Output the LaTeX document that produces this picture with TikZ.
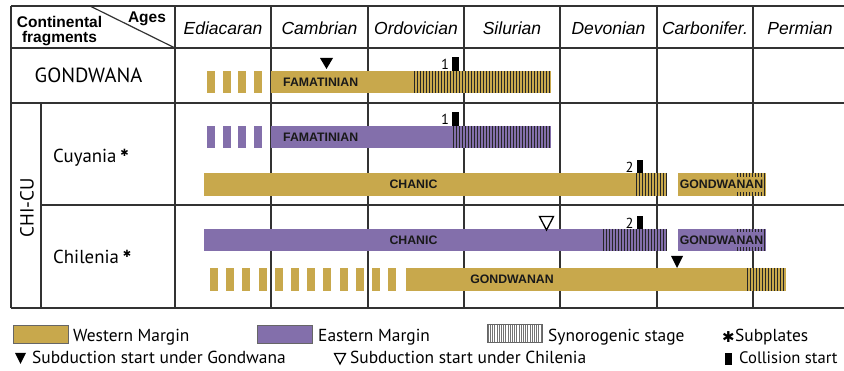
\documentclass[tikz,border=0pt]{standalone}
\usepackage{fontspec}
\setmainfont{Liberation Sans}
\newfontfamily\myr{PT Sans}
\newfontfamily\djv{DejaVu Sans}
\definecolor{gold}{RGB}{200,168,76}
\definecolor{purp}{RGB}{131,111,171}
\definecolor{gridc}{RGB}{50,50,50}
\newcommand\hatchrun[6]{%
 \pgfmathsetmacro\hxa{#1+#5/2}\pgfmathsetmacro\hxb{#1+#5*1.5}%
 \foreach \hx in {\hxa,\hxb,...,#2}{\draw[#6] (\hx,#3) -- (\hx,#4);}}
\newcommand\substar{\hspace{4pt}\raisebox{6pt}{\djv\fontsize{10}{10}\selectfont ✱}}
\tikzset{
 gridln/.style={draw=gridc,line width=1.2pt},
 hatchln/.style={draw=black!85,line width=0.95pt},
 leghatch/.style={draw=black!55,line width=0.5pt},
 hdr/.style={font=\fontsize{17.5}{18}\selectfont\itshape,anchor=base,inner sep=0pt},
 corner/.style={font=\fontsize{15.5}{16}\selectfont\bfseries,anchor=base,inner sep=0pt},
 frag/.style={font=\myr\fontsize{18.8}{20}\selectfont,anchor=base west,inner sep=0pt},
 barlbl/.style={font=\fontsize{12.3}{13}\selectfont\bfseries,text=black!90,inner sep=0pt},
 num/.style={font=\myr\fontsize{14.5}{15}\selectfont,inner sep=0pt},
 leg/.style={font=\myr\fontsize{17.4}{19}\selectfont,anchor=base west,inner sep=0pt},
 star/.style={font=\djv\fontsize{10}{10}\selectfont,inner sep=0pt},
 coll/.style={fill=black},
 legbox/.style={draw=black!60,line width=0.7pt},
}
\begin{document}
\begin{tikzpicture}[x=1pt,y=-1pt]
\useasboundingbox (0,0) rectangle (844,371);
\fill[white] (0,0) rectangle (844,371);
% grid
\draw[gridln] (11,6) -- (844,6);
\draw[gridln] (11,48) -- (844,48);
\draw[gridln] (11,103) -- (844,103);
\draw[gridln] (41,205) -- (844,205);
\draw[gridln] (11,308) -- (844,308);
\draw[gridln] (11,6) -- (11,308);
\draw[gridln] (41,103) -- (41,308);
\foreach \cx in {175,271,368,464,560,657,753}{\draw[gridln] (\cx,6) -- (\cx,308);}
\draw[gridln] (90,6) -- (175,48);
% header
\node[corner] (ages) at (147,23) {Ages};
\node[corner] (cont) at (59.5,28) {Continental};
\node[corner] (frg) at (59.5,43) {fragments};
\node[hdr] (h1) at (223,35) {Ediacaran};
\node[hdr] (h2) at (319.5,35) {Cambrian};
\node[hdr] (h3) at (416,35) {Ordovician};
\node[hdr] (h4) at (512,35) {Silurian};
\node[hdr] (h5) at (608.5,35) {Devonian};
\node[hdr] (h6) at (705,35) {Carbonifer.};
\node[hdr] (h7) at (800,35) {Permian};
% row labels
\node[font=\myr\fontsize{20.5}{22}\selectfont,anchor=base,inner sep=0pt] (gond) at (88.5,83) {GONDWANA};
\node[frag] (cuy) at (53,163) {Cuyania\substar};
\node[frag] (chl) at (53,264) {Chilenia\substar};
\node[font=\myr\fontsize{19}{20}\selectfont,rotate=90,inner sep=0pt] (chicu) at (27,208) {CHI-CU};
% ---- Gondwana row
\foreach \i in {0,...,3}{\fill[gold] ({207+15.67*\i},71) rectangle ({215+15.67*\i},93);}
\fill[gold] (271,71) rectangle (551,93);
\hatchrun{413}{551}{71}{93}{3}{hatchln}
\node[barlbl,anchor=west] (fam1) at (283,82) {FAMATINIAN};
\fill (320,58) -- (333,58) -- (326.5,69) -- cycle;
\fill[coll] (452,57) rectangle (459,71);
\node[num] (n1a) at (445,64) {1};
% ---- Cuyania row
\foreach \i in {0,...,3}{\fill[purp] ({207+15.67*\i},126) rectangle ({215+15.67*\i},148);}
\fill[purp] (271,126) rectangle (551,148);
\hatchrun{452}{551}{126}{148}{3}{hatchln}
\node[barlbl,anchor=west] (fam2) at (283,137) {FAMATINIAN};
\fill[coll] (452,112) rectangle (459,126);
\node[num] (n1b) at (445,119) {1};
\fill[gold] (204,173) rectangle (667,196);
\hatchrun{635}{667}{173}{196}{3}{hatchln}
\node[barlbl] (chan1) at (413.5,184.5) {CHANIC};
\fill[coll] (637,160) rectangle (643,173);
\node[num] (n2a) at (629.5,167) {2};
\fill[gold] (678,173) rectangle (766,196);
\hatchrun{736}{766}{173}{196}{3}{hatchln}
\node[barlbl,fill=gold,minimum height=15pt,inner xsep=0.5pt] (gw1) at (721.5,184.5) {GONDWANAN};
% ---- Chilenia row
\fill[purp] (204,229) rectangle (667,251);
\hatchrun{602}{667}{229}{251}{3}{hatchln}
\node[barlbl] (chan2) at (413.5,240) {CHANIC};
\draw[line width=1.3pt,line join=miter] (539.5,216.5) -- (553.5,216.5) -- (546.5,230) -- cycle;
\fill[coll] (637,216) rectangle (643,229);
\node[num] (n2b) at (629.5,223) {2};
\fill[purp] (678,229) rectangle (766,251);
\hatchrun{736}{766}{229}{251}{3}{hatchln}
\node[barlbl,fill=purp,minimum height=15pt,inner xsep=0.5pt] (gw2) at (721.5,240) {GONDWANAN};
\fill (671,256) -- (683,256) -- (677,268) -- cycle;
\foreach \i in {0,...,11}{\fill[gold] ({210+16.2*\i},268) rectangle ({218+16.2*\i},291);}
\fill[gold] (406,268) rectangle (786,291);
\hatchrun{746}{786}{268}{291}{3}{hatchln}
\node[barlbl] (gw3) at (512,279.5) {GONDWANAN};
% ---- legend
\filldraw[fill=gold,legbox] (13,325) rectangle (68,343);
\node[leg] (lw) at (73,342) {Western Margin};
\filldraw[fill=purp,legbox] (257,325) rectangle (312,343);
\node[leg] (le) at (318,342) {Eastern Margin};
\hatchrun{487}{542}{324}{342}{2.2}{leghatch}
\draw[legbox] (487,324) rectangle (542,342);
\node[leg] (ls) at (548,342) {Synorogenic stage};
\node[star,font=\djv\fontsize{15}{15}\selectfont] (lstar) at (728.5,337.5) {✱};
\node[leg] (lsub) at (735,342) {Subplates};
\fill (15,353) -- (26,353) -- (20.5,364) -- cycle;
\node[leg] (lg) at (32,364) {Subduction start under Gondwana};
\draw[line width=1.2pt,line join=miter] (334.5,353.5) -- (345.5,353.5) -- (340,364) -- cycle;
\node[leg] (lc) at (350,364) {Subduction start under Chilenia};
\fill[coll] (725,353) rectangle (732,365);
\node[leg,font=\myr\fontsize{16.6}{18}\selectfont] (lcol) at (739,364) {Collision start};
\end{tikzpicture}
\end{document}
